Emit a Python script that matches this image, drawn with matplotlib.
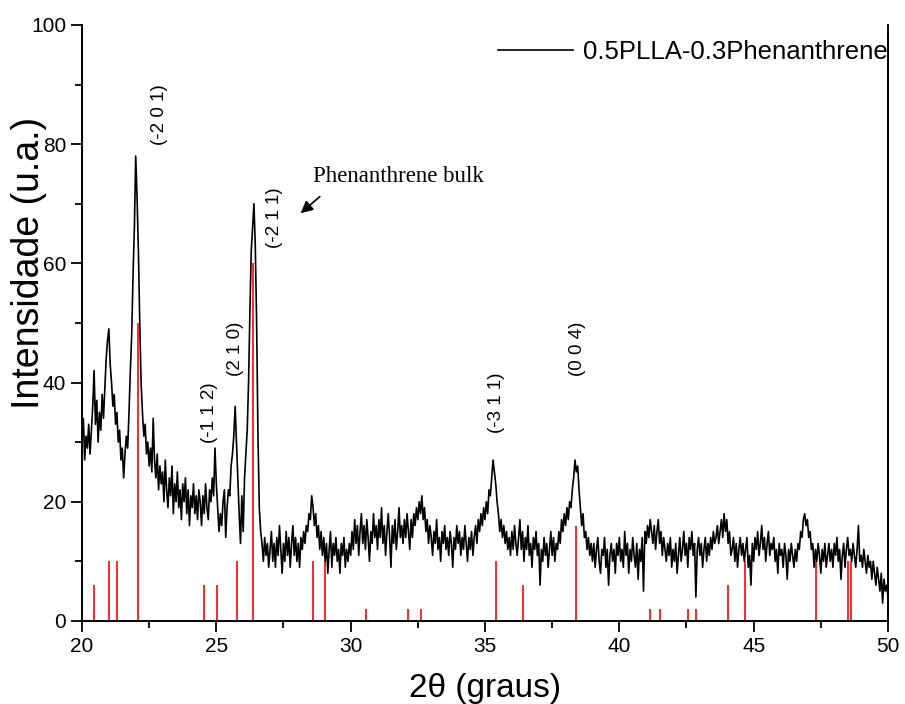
import numpy as np
import matplotlib
matplotlib.use("Agg")
import matplotlib.pyplot as plt
from matplotlib.ticker import MultipleLocator

plt.rcParams['font.family'] = ['Liberation Sans', 'DejaVu Sans']

# XRD pattern, every 0.05 deg (one row per degree)
two_theta = np.round(np.arange(20.0, 50.001, 0.05), 2)
rows = [
    [30, 34, 27, 31, 29, 33, 28, 32, 36, 42, 33, 37, 30, 35, 32, 38, 34, 39, 44, 47],   # 20
    [49, 43, 40, 36, 38, 33, 35, 30, 32, 27, 29, 24, 28, 31, 29, 35, 42, 48, 58, 66],   # 21
    [78, 71, 62, 50, 40, 35, 31, 33, 28, 30, 26, 29, 25, 34, 27, 24, 28, 22, 26, 23],   # 22
    [25, 20, 27, 22, 19, 24, 21, 26, 18, 23, 20, 25, 19, 22, 17, 23, 20, 24, 18, 22],   # 23
    [16, 21, 19, 23, 18, 21, 17, 22, 20, 16, 21, 18, 23, 19, 17, 22, 20, 24, 21, 29],   # 24
    [23, 19, 15, 18, 16, 20, 22, 14, 19, 22, 21, 26, 28, 31, 36, 30, 24, 18, 13, 21],   # 25
    [15, 24, 28, 32, 40, 52, 62, 66, 70, 63, 50, 31, 19, 15, 13, 10, 14, 11, 13, 9],    # 26
    [12, 15, 10, 13, 9, 14, 11, 16, 12, 8, 13, 10, 15, 11, 14, 9, 13, 16, 11, 14],      # 27
    [10, 13, 9, 14, 12, 15, 13, 16, 15, 18, 17, 21, 19, 16, 18, 14, 16, 12, 15, 11],    # 28
    [14, 10, 13, 8, 12, 15, 9, 13, 11, 14, 10, 12, 8, 13, 11, 14, 9, 12, 10, 13],       # 29
    [11, 15, 12, 17, 13, 16, 11, 15, 18, 13, 16, 12, 17, 14, 10, 15, 13, 18, 14, 16],   # 30
    [12, 17, 14, 19, 13, 16, 11, 15, 18, 14, 9, 16, 13, 17, 12, 15, 19, 14, 16, 13],    # 31
    [17, 14, 18, 15, 12, 17, 14, 18, 16, 19, 17, 20, 18, 21, 17, 19, 15, 17, 13, 16],   # 32
    [14, 11, 15, 13, 17, 12, 14, 10, 15, 13, 16, 12, 14, 11, 15, 13, 9, 14, 12, 16],    # 33
    [13, 15, 11, 14, 12, 16, 13, 10, 14, 12, 15, 11, 14, 16, 13, 17, 15, 18, 16, 19],   # 34
    [17, 20, 18, 22, 21, 24, 27, 25, 23, 20, 18, 15, 17, 14, 16, 13, 15, 12, 14, 11],   # 35
    [15, 12, 16, 13, 11, 14, 17, 12, 15, 10, 14, 12, 16, 11, 13, 9, 14, 12, 15, 11],    # 36
    [13, 6, 12, 10, 14, 11, 13, 9, 12, 15, 11, 14, 10, 13, 12, 15, 13, 17, 15, 18],     # 37
    [16, 19, 17, 20, 19, 22, 24, 27, 25, 26, 22, 19, 16, 18, 14, 15, 12, 14, 11, 13],   # 38
    [10, 13, 9, 12, 14, 10, 8, 12, 11, 14, 9, 12, 6, 11, 13, 10, 12, 8, 13, 11],        # 39
    [14, 10, 12, 9, 15, 11, 13, 8, 12, 10, 14, 11, 9, 13, 7, 12, 10, 14, 5, 15],        # 40
    [13, 16, 14, 17, 15, 13, 16, 12, 15, 17, 13, 15, 11, 14, 12, 10, 13, 11, 14, 9],    # 41
    [12, 10, 13, 8, 11, 14, 10, 12, 15, 11, 13, 9, 14, 12, 15, 11, 13, 4, 12, 14],      # 42
    [11, 13, 9, 12, 14, 10, 13, 11, 14, 12, 15, 13, 14, 16, 13, 15, 17, 14, 18, 15],    # 43
    [17, 13, 15, 11, 12, 14, 10, 13, 9, 12, 14, 11, 13, 10, 12, 14, 9, 11, 6, 13],      # 44
    [10, 14, 12, 15, 11, 13, 16, 12, 14, 10, 13, 15, 11, 13, 12, 14, 10, 12, 8, 13],    # 45
    [11, 12, 9, 13, 11, 7, 12, 10, 13, 11, 9, 12, 10, 13, 12, 15, 14, 17, 18, 16],      # 46
    [17, 14, 15, 12, 13, 9, 12, 10, 13, 11, 8, 12, 10, 13, 9, 11, 13, 10, 12, 9],       # 47
    [13, 11, 14, 10, 12, 7, 11, 13, 9, 12, 14, 11, 12, 10, 13, 11, 9, 12, 16, 10],      # 48
    [11, 9, 12, 10, 8, 11, 9, 10, 7, 10, 8, 6, 9, 7, 5, 8, 3, 7, 5, 6, 4],              # 49-50
]
intensity = np.array([v for r in rows for v in r], dtype=float)

# reference card (red sticks)
stick_pos = [20.46, 20.99, 21.29, 22.10, 24.54, 25.01, 25.76, 26.35, 28.59, 29.06,
             30.56, 32.14, 32.62, 35.41, 36.40, 38.40, 41.15, 41.50, 42.54, 42.86,
             44.05, 44.68, 47.32, 48.52, 48.62]
stick_height = [6, 10, 10, 50, 6, 6, 10, 60, 10, 10,
                2, 2, 2, 10, 6, 16, 2, 2, 2, 2,
                6, 10, 10, 10, 10]

# peak labels (hkl)
hkl_text = ['(-2 0 1)', '(-1 1 2)', '(2 1 0)', '(-2 1 1)', '(-3 1 1)', '(0 0 4)']
hkl_x = [22.9, 24.76, 25.73, 27.18, 35.41, 38.46]
hkl_y = [85, 35, 45.6, 67.6, 36.6, 45.6]

fig = plt.figure(figsize=(9.05, 7.04), dpi=100)
ax = fig.add_axes([0.0906, 0.118, 0.8906, 0.8466])

ax.vlines(stick_pos, 0, stick_height, colors='red', lw=1.2)
ax.plot(two_theta, intensity, color='black', lw=1.2, label='0.5PLLA-0.3Phenanthrene')

for t, x, y in zip(hkl_text, hkl_x, hkl_y):
    ax.text(x, y, t, rotation=90, ha='center', va='center', fontsize=13.5)

ax.text(28.6, 74.5, 'Phenanthrene bulk', family='Liberation Serif', fontsize=16.5,
        ha='left', va='center')
ax.annotate('', xy=(28.06, 68.1), xytext=(28.93, 71.5),
            arrowprops=dict(arrowstyle='-|>', color='black', lw=1.2, mutation_scale=18))

ax.set_xlim(20, 50)
ax.set_ylim(0, 100)
ax.xaxis.set_major_locator(MultipleLocator(5))
ax.xaxis.set_minor_locator(MultipleLocator(2.5))
ax.yaxis.set_major_locator(MultipleLocator(20))
ax.yaxis.set_minor_locator(MultipleLocator(10))
ax.tick_params(which='both', direction='out', width=1.3, labelsize=15, right=False, top=False)
ax.tick_params(which='major', length=8)
ax.tick_params(which='minor', length=5)
ax.spines['top'].set_visible(False)
for s in ['left', 'bottom', 'right']:
    ax.spines[s].set_linewidth(1.4)

ax.set_xlabel('2θ (graus)', fontsize=24, labelpad=12)
ax.set_ylabel('Intensidade (u.a.)', fontsize=27, va='center')
ax.yaxis.set_label_coords(-0.066, 0.6)

ax.legend(loc='upper right', bbox_to_anchor=(1.0, 0.975), frameon=False, fontsize=18.5,
          handlelength=2.9, handletextpad=0.4, borderpad=0, borderaxespad=0)

fig.savefig('out.png', dpi=100)
